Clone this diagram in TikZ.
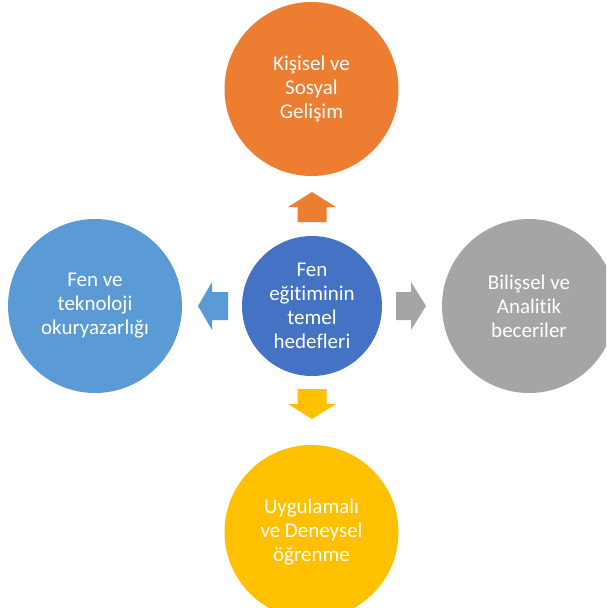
\documentclass[tikz,border=0pt]{standalone}
\usepackage{fontspec}
\setmainfont{Carlito}[Ligatures={NoCommon}]
\definecolor{cOrange}{HTML}{ED7D31}
\definecolor{cBlue}{HTML}{4472C4}
\definecolor{cLight}{HTML}{5B9BD5}
\definecolor{cGray}{HTML}{A5A5A5}
\definecolor{cGold}{HTML}{FFC000}
\begin{document}
\begin{tikzpicture}[x=1pt,y=-1pt,
  bubble/.style={circle,inner sep=0pt,text=white,align=center,
    font=\fontsize{21}{24}\selectfont},
  bigbubble/.style={bubble,minimum size=174pt},
  hubbubble/.style={bubble,minimum size=140pt},
  blockarrow/.style={draw=none}]
\useasboundingbox (0,0) rectangle (606,608);
\clip (0,0) rectangle (606,608);
\node[hubbubble,fill=cBlue] (hub) at (312,306) {Fen\\eğitiminin\\temel\\hedefleri};
\node[bigbubble,fill=cOrange] (top) at (311.5,89) {Kişisel ve\\Sosyal\\Gelişim};
\node[bigbubble,fill=cLight] (left) at (95,306) {Fen ve\\teknoloji\\okuryazarlığı};
\node[bigbubble,fill=cGray] (right) at (529,306) {Bilişsel ve\\Analitik\\beceriler};
\node[bigbubble,fill=cGold] (bottom) at (311.5,532) {Uygulamalı\\ve Deneysel\\öğrenme};
% block arrows
\fill[blockarrow,cOrange] (312,192) -- (336,207) -- (326.5,207) -- (326.5,222) -- (297.5,222) -- (297.5,207) -- (288,207) -- cycle;
\fill[blockarrow,cGold] (297.5,389) -- (326.5,389) -- (326.5,404) -- (336,404) -- (312,419) -- (288,404) -- (297.5,404) -- cycle;
\fill[blockarrow,cLight] (198,306) -- (212,282) -- (212,292) -- (228,292) -- (228,320) -- (212,320) -- (212,330) -- cycle;
\fill[blockarrow,cGray] (426,306) -- (411,282) -- (411,292) -- (396,292) -- (396,320) -- (411,320) -- (411,330) -- cycle;
\end{tikzpicture}
\end{document}
